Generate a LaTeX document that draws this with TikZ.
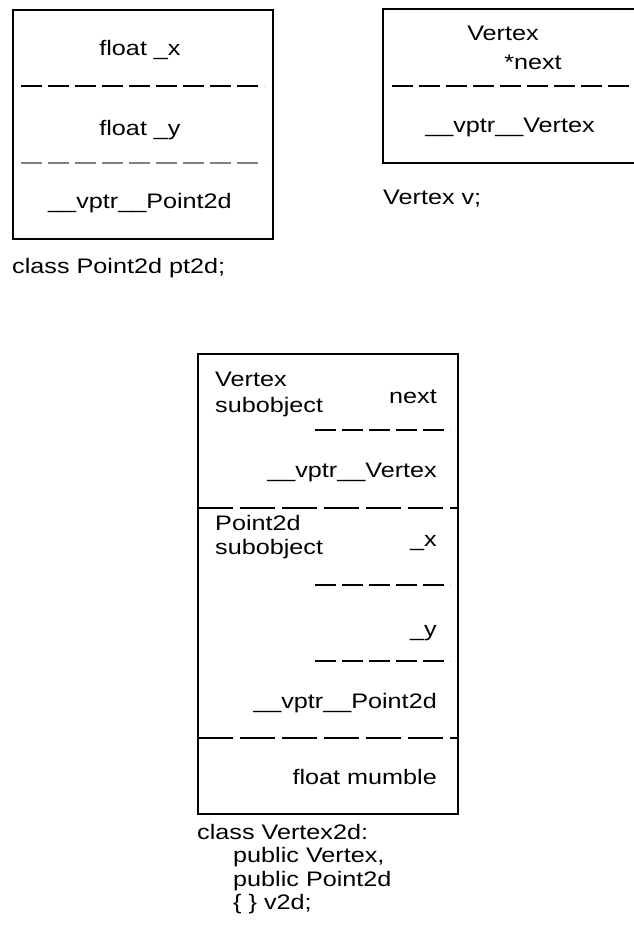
\documentclass[tikz,border=0pt]{standalone}
\usepackage{fontspec}
\setmainfont[FakeStretch=1.2]{Liberation Sans}
\usetikzlibrary{positioning}

\begin{document}
\begin{tikzpicture}[
    x=1pt, y=-1pt,
    every node/.style={font=\fontsize{21}{23.5}\selectfont, inner sep=0pt},
    box/.style={draw, line width=1.6pt, anchor=north west},
    sep/.style={line width=1.4pt, dash pattern=on 21pt off 6pt},
    longsep/.style={line width=1.4pt, dash pattern=on 35pt off 7pt}
]
    \useasboundingbox (0,0) rectangle (633,944);

    % Point2d object
    \node (ptbox) [box, minimum width=260pt, minimum height=229pt] at (12,9) {};
    \node (ptx) at (140,50) {float \_x};
    \node (pty) at (140,130) {float \_y};
    \node (ptvptr) at (140,203) {\_\_vptr\_\_Point2d};
    \draw [sep] (21,86) -- (264,86);
    \draw [sep, gray] (21,163) -- (264,163);
    \node (ptname) [anchor=west] at (12,268) {class Point2d pt2d;};

    % Vertex object
    \draw [line width=1.6pt] (640,9) -| (383,163) -- (640,163);
    \node (vtype) at (503,33) {Vertex};
    \node (vnext) at (533,62) {*next};
    \node (vvptr) at (510,127) {\_\_vptr\_\_Vertex};
    \draw [sep] (392,86) -- (633,86);
    \node (vname) [anchor=west] at (383,199) {Vertex v;};

    % Vertex2d object
    \node (vdbox) [box, minimum width=260pt, minimum height=460pt] at (197,353) {};
    \node (vsub) [anchor=west, align=left, font=\fontsize{21}{26}\selectfont] at (215,394) {Vertex\\subobject};
    \node (vdnext) [anchor=east] at (437,397) {next};
    \node (vdvptr) [anchor=east] at (437,472) {\_\_vptr\_\_Vertex};
    \node (psub) [anchor=west, align=left, font=\fontsize{21}{24}\selectfont] at (215,537) {Point2d\\subobject};
    \node (vdx) [anchor=east] at (437,543) {\_x};
    \node (vdy) [anchor=east] at (437,633) {\_y};
    \node (vdpvptr) [anchor=east] at (437,703) {\_\_vptr\_\_Point2d};
    \node (vdmumble) [anchor=east] at (437,777) {float mumble};
    \draw [sep] (315,430) -- (450,430);
    \draw [longsep] (198,508) -- (457,508);
    \draw [sep] (315,585) -- (450,585);
    \draw [sep] (315,661) -- (450,661);
    \draw [longsep] (198,738) -- (457,738);
    \node (vdname) [anchor=north west, align=left] at (197,824)
        {class Vertex2d:\\\hspace{36pt}public Vertex,\\\hspace{36pt}public Point2d\\\hspace{36pt}\{ \} v2d;};
\end{tikzpicture}
\end{document}
